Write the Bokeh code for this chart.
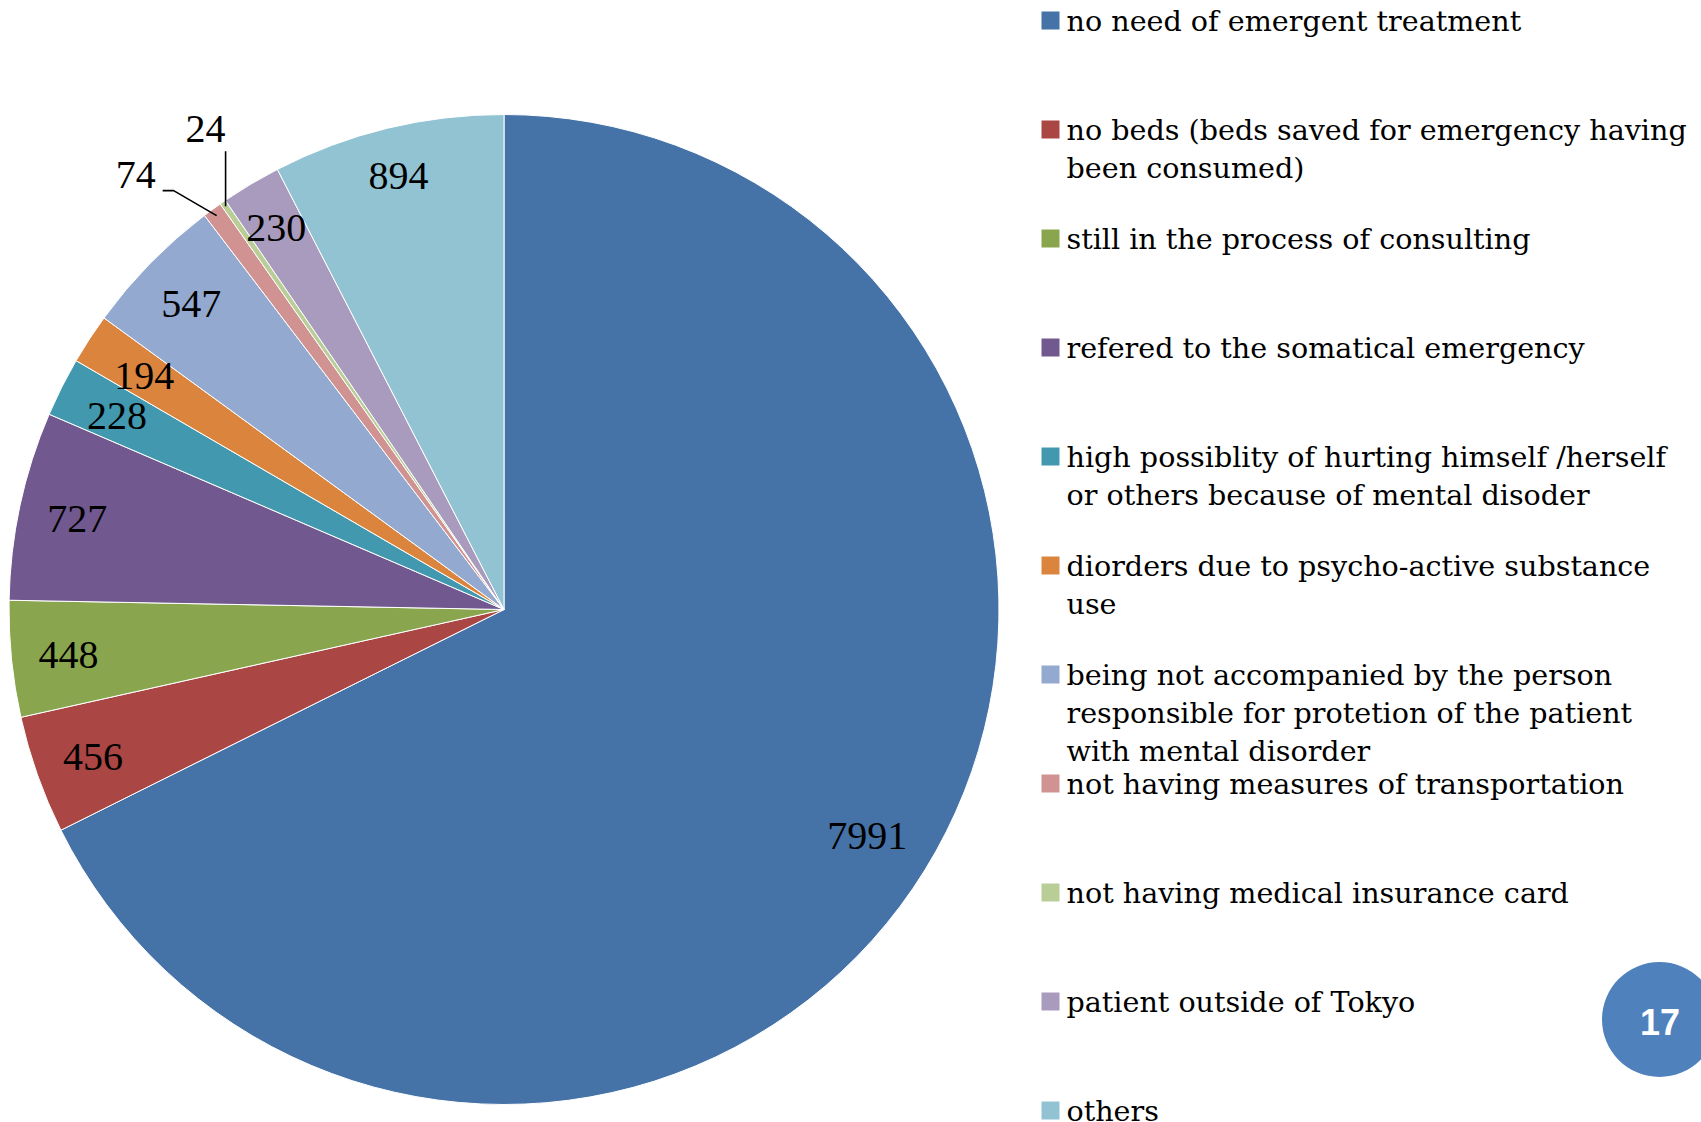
import math
from bokeh.plotting import figure
from bokeh.models import Range1d, ColumnDataSource
from bokeh.core.properties import value
from bokeh.embed import file_html
from bokeh.resources import INLINE

# ---------------- data ----------------
categories = [
    "no need of emergent treatment",
    "no beds (beds saved for emergency having\nbeen consumed)",
    "still in the process of consulting",
    "refered to the somatical emergency",
    "high possiblity of hurting himself /herself\nor others because of mental disoder",
    "diorders due to psycho-active substance\nuse",
    "being not accompanied by the person\nresponsible for protetion of the patient\nwith mental disorder",
    "not having measures of transportation",
    "not having medical insurance card",
    "patient outside of Tokyo",
    "others",
]
counts = [7991, 456, 448, 727, 228, 194, 547, 74, 24, 230, 894]
colors = ["#4572A7", "#AA4643", "#89A54E", "#71588F", "#4198AF", "#DB843D",
          "#93A9CF", "#D19392", "#B9CD96", "#A99BBD", "#92C3D3"]
outside_labels = [7, 8]   # indices whose labels sit outside with leader lines
badge_text = "17"

# label placement (fraction of radius along each slice's middle angle)
label_radius = [0.863, 0.881, 0.884, 0.882, 0.875, 0.868, 0.885, 0.0, 0.0,
                0.900, 0.905]

# ---------------- layout (page pixels) ----------------
W, H = 1701, 1122
CX, CY, R = 503.5, 609.0, 495.0


def px(X):
    return X - CX


def py(Y):
    return CY - Y


p = figure(width=W, height=H, output_backend="svg", toolbar_location=None,
           x_range=Range1d(px(0), px(W)), y_range=Range1d(py(H), py(0)),
           min_border=0, outline_line_color=None)
p.axis.visible = False
p.grid.visible = False
p.background_fill_color = "white"
p.border_fill_color = "white"

total = float(sum(counts))
starts, ends, mids = [], [], []
cum = 0.0
for c in counts:
    a0 = math.pi / 2 - 2 * math.pi * cum / total
    cum += c
    a1 = math.pi / 2 - 2 * math.pi * cum / total
    starts.append(a0)
    ends.append(a1)
    mids.append((a0 + a1) / 2)

src = ColumnDataSource(dict(x=[0.0] * len(counts), y=[0.0] * len(counts),
                            start=starts, end=ends, color=colors))
p.wedge(x="x", y="y", radius=R, start_angle="start", end_angle="end",
        direction="clock", fill_color="color", line_color="white",
        line_width=1, source=src)

# inside labels
lx, ly, lt = [], [], []
for i, c in enumerate(counts):
    if i in outside_labels:
        continue
    rr = label_radius[i] * R
    lx.append(rr * math.cos(mids[i]))
    ly.append(rr * math.sin(mids[i]) - 1.5)
    lt.append(str(c))
p.text(x=lx, y=ly, text=lt, text_font=value("Liberation Serif"),
       text_font_size="40px", text_align="center", text_baseline="middle",
       text_color="black")

# outside labels with leader lines
# label 74: elbow leader line
i = outside_labels[0]
ex, ey = 0.985 * R * math.cos(mids[i]), 0.985 * R * math.sin(mids[i])
elx, ely = ex - 43, ey + 25
enx, eny = elx - 11, ely
p.line([ex, elx, enx], [ey, ely, eny], line_color="black", line_width=1.6)
p.text(x=[enx - 7], y=[eny + 16], text=[str(counts[i])],
       text_font=value("Liberation Serif"), text_font_size="40px",
       text_align="right", text_baseline="middle", text_color="black")

# label 24: vertical leader line
i = outside_labels[1]
ex, ey = 0.99 * R * math.cos(mids[i]), 0.99 * R * math.sin(mids[i])
enx, eny = ex, ey + 55
p.line([ex, enx], [ey, eny], line_color="black", line_width=1.6)
p.text(x=[enx - 20], y=[eny + 22], text=[str(counts[i])],
       text_font=value("Liberation Serif"), text_font_size="40px",
       text_align="center", text_baseline="middle", text_color="black")

# legend
ROW0, STEP, LINE = 20.0, 109.0, 38.0
SQX, TX = 1050.0, 1066.0
sq_x, sq_y, tx, ty, tt = [], [], [], [], []
for k, lab in enumerate(categories):
    yc = ROW0 + STEP * k
    sq_x.append(px(SQX))
    sq_y.append(py(yc))
    for j, line in enumerate(lab.split("\n")):
        tx.append(px(TX))
        ty.append(py(yc + LINE * j))
        tt.append(line)
p.rect(x=sq_x, y=sq_y, width=18, height=18, width_units="screen",
       height_units="screen", fill_color=colors, line_color=None)
p.text(x=tx, y=ty, text=tt, text_font=value("DejaVu Serif"),
       text_font_size="28.6px", text_align="left", text_baseline="middle",
       text_color="black")

# page-number badge
p.scatter(x=[px(1659)], y=[py(1019)], size=115, marker="circle",
          fill_color="#4F81BD", line_color=None)
p.text(x=[px(1659.5)], y=[py(1021)], text=[badge_text],
       text_font=value("Liberation Sans"), text_font_style="bold",
       text_font_size="36px", text_align="center", text_baseline="middle",
       text_color="white")

open("out.html", "w").write(file_html(p, INLINE))
